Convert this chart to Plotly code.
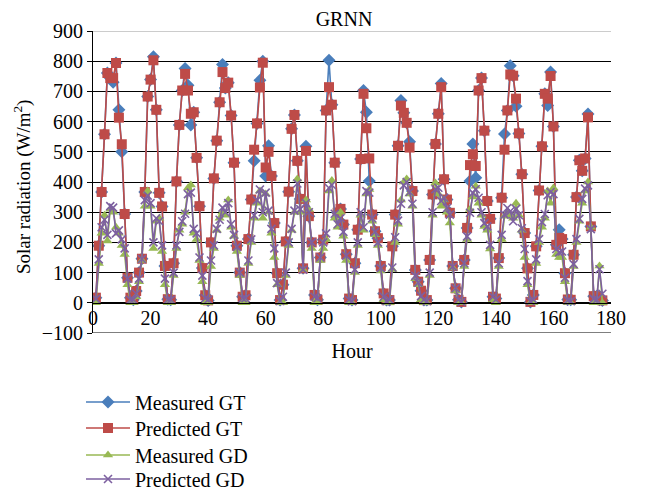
import plotly.graph_objects as go

# ---------------- data ----------------
gt_predicted = [
    17, 189, 367, 558, 761, 744, 744, 794, 613, 525, 294, 83, 17,
    10, 39, 100, 146, 367, 683, 739, 803, 639, 364, 319, 122, 12,
    10, 131, 402, 589, 703, 758, 703, 626, 631, 480, 320, 115, 25,
    8, 200, 412, 537, 664, 764, 711, 729, 620, 464, 189, 100, 20,
    25, 211, 342, 507, 594, 713, 795, 448, 500, 420, 264, 98, 9,
    60, 203, 368, 576, 622, 470, 344, 114, 503, 287, 200, 26,
    10, 150, 209, 637, 714, 656, 464, 298, 311, 259, 161, 14, 9,
    131, 242, 476, 692, 578, 478, 292, 237, 214, 122, 31, 9,
    9, 187, 292, 520, 653, 629, 596, 514, 370, 109, 70, 40, 9,
    9, 142, 359, 526, 626, 714, 409, 342, 298, 122, 48, 10, 3,
    142, 248, 456, 492, 453, 703, 744, 570, 337, 278, 20, 14,
    148, 348, 507, 637, 756, 752, 676, 561, 426, 231, 114, 3,
    26, 187, 372, 518, 692, 676, 751, 584, 192, 215, 211, 98, 11,
    10, 159, 350, 472, 437, 478, 614, 253, 22, 22, 10, 8,
]

gt_measured = [
    17, 189, 367, 558, 761, 744, 730, 794, 639, 500, 294, 83, 17,
    10, 39, 100, 146, 367, 683, 739, 815, 639, 364, 319, 122, 12,
    10, 131, 402, 589, 703, 776, 720, 589, 631, 480, 320, 115, 25,
    8, 200, 412, 537, 664, 789, 711, 729, 620, 464, 189, 100, 20,
    25, 211, 342, 470, 594, 737, 800, 420, 520, 420, 264, 98, 9,
    60, 203, 368, 576, 622, 470, 344, 114, 518, 287, 200, 26,
    10, 150, 209, 637, 803, 656, 464, 298, 311, 259, 161, 14, 9,
    131, 242, 476, 703, 631, 403, 292, 237, 214, 122, 31, 9,
    9, 187, 292, 520, 670, 629, 596, 533, 370, 109, 70, 40, 9,
    9, 142, 359, 526, 626, 726, 409, 342, 298, 122, 48, 10, 3,
    142, 248, 403, 526, 414, 703, 744, 570, 337, 278, 20, 14,
    148, 348, 559, 637, 785, 752, 651, 561, 426, 231, 114, 3,
    26, 187, 372, 518, 692, 653, 764, 584, 192, 242, 211, 98, 11,
    10, 159, 350, 472, 437, 478, 625, 253, 22, 22, 10, 8,
]

gd_predicted = [
    13, 144, 250, 275, 225, 320, 315, 230, 240, 210, 180, 80, 10,
    10, 30, 80, 145, 340, 355, 330, 200, 280, 270, 190, 80, 10,
    10, 100, 190, 235, 270, 295, 360, 365, 245, 230, 150, 90, 15,
    10, 140, 190, 245, 275, 315, 300, 330, 260, 225, 185, 100, 15,
    15, 140, 210, 290, 340, 375, 300, 365, 305, 245, 180, 65, 6,
    20, 100, 200, 245, 305, 395, 310, 110, 330, 300, 200, 20,
    15, 150, 200, 230, 380, 390, 295, 260, 280, 235, 156, 10, 5,
    110, 200, 300, 250, 370, 365, 280, 235, 200, 115, 20, 5,
    10, 117, 217, 272, 328, 389, 400, 367, 328, 89, 67, 22, 10,
    5, 100, 300, 376, 381, 337, 348, 314, 292, 120, 48, 10, 3,
    131, 220, 298, 364, 376, 348, 300, 264, 253, 192, 20, 10,
    131, 225, 292, 314, 303, 270, 311, 290, 247, 178, 72, 5,
    10, 144, 211, 267, 294, 356, 367, 360, 178, 167, 170, 83, 8,
    5, 128, 211, 278, 344, 378, 389, 244, 13, 10, 111, 30,
]

gd_measured = [
    0, 130, 230, 290, 205, 310, 300, 250, 230, 190, 160, 60, 0,
    0, 20, 70, 140, 320, 370, 320, 180, 270, 280, 170, 60, 0,
    0, 90, 180, 240, 260, 300, 380, 390, 230, 210, 140, 70, 0,
    0, 120, 180, 240, 280, 300, 290, 340, 250, 220, 170, 90, 0,
    0, 130, 200, 280, 330, 370, 280, 360, 300, 230, 150, 60, 0,
    0, 90, 190, 240, 300, 410, 300, 110, 340, 310, 180, 0,
    0, 140, 180, 210, 370, 405, 280, 250, 300, 220, 140, 0, 0,
    100, 190, 290, 240, 360, 375, 270, 225, 190, 105, 10, 0,
    0, 110, 200, 260, 340, 400, 410, 360, 320, 80, 60, 10, 0,
    0, 90, 290, 397, 360, 320, 340, 300, 264, 115, 40, 0, 0,
    120, 210, 309, 350, 386, 330, 290, 253, 240, 178, 10, 0,
    120, 210, 287, 300, 290, 280, 330, 290, 240, 150, 60, 0,
    0, 130, 200, 250, 280, 370, 330, 380, 160, 150, 150, 70, 0,
    0, 120, 200, 270, 330, 370, 400, 250, 0, 0, 122, 0,
]

hours = list(range(1, len(gt_predicted) + 1))

series_names = ["Measured GT", "Predicted GT", "Measured GD", "Predicted GD"]
y_ticks = [-100, 0, 100, 200, 300, 400, 500, 600, 700, 800, 900]
x_ticks = [0, 20, 40, 60, 80, 100, 120, 140, 160, 180]

# ---------------- styling ----------------
# The page adds an 8 px body margin, so the figure is sized/placed to compensate.
W, H = 638, 484
ML, MR, MT, MB = 85, 35, 23, 159
FONT = "Liberation Serif"
colors = ["#4A7EBB", "#BE4B48", "#98B954", "#7D60A0"]
symbols = ["diamond", "square", "triangle-up", "x-thin"]
sizes = [10, 10, 9, 8]
legend_ids = ["legend", "legend2", "legend3", "legend4"]
legend_centers_px = [394, 420, 447, 471]   # figure pixels (from top)

fig = go.Figure()
all_series = [gt_measured, gt_predicted, gd_measured, gd_predicted]
for name, vals, col, sym, sz, lg in zip(series_names, all_series, colors, symbols,
                                        sizes, legend_ids):
    n = min(len(vals), len(hours))
    marker = dict(symbol=sym, size=sz, color=col)
    if sym == "x-thin":
        marker["line"] = dict(color=col, width=1.6)
    fig.add_trace(go.Scatter(
        x=hours[:n], y=vals[:n], name=name, mode="lines+markers",
        line=dict(color=col, width=1.6), marker=marker, legend=lg,
    ))

legend_layouts = {}
for lg, cy in zip(legend_ids, legend_centers_px):
    legend_layouts[lg] = dict(
        xref="container", yref="container", x=73 / W, y=1 - cy / H,
        xanchor="left", yanchor="middle", itemwidth=44,
        font=dict(family=FONT, size=20, color="black"),
        bgcolor="rgba(0,0,0,0)",
    )

plot_w = W - ML - MR
plot_h = H - MT - MB

fig.update_layout(
    width=W, height=H,
    margin=dict(l=ML, r=MR, t=MT, b=MB, autoexpand=False),
    paper_bgcolor="white", plot_bgcolor="white",
    font=dict(family=FONT, size=20, color="black"),
    title=dict(text="GRNN", x=336 / W, xanchor="center", y=1 - 11 / H, yanchor="middle",
               font=dict(family=FONT, size=20, color="black")),
    showlegend=True,
    xaxis=dict(range=[0, 180], tickvals=x_ticks, showgrid=False, zeroline=False,
               showline=True, linecolor="black", linewidth=1,
               anchor="free", position=0.1, ticks="", ticklabelstandoff=-3,
               tickfont=dict(family=FONT, size=20),
               title=dict(text="Hour", font=dict(family=FONT, size=20), standoff=16)),
    yaxis=dict(range=[-100, 900], tickvals=y_ticks,
               ticktext=["\u2212100"] + [str(v) for v in y_ticks[1:]],
               showgrid=True, gridcolor="black", gridwidth=1, zeroline=False,
               showline=True, linecolor="black", linewidth=1,
               ticks="outside", ticklen=5, tickcolor="black",
               tickfont=dict(family=FONT, size=20)),
    annotations=[dict(
        text="Solar radiation (W/m<sup>2</sup>)", textangle=-90,
        xref="paper", yref="paper",
        x=(14 - ML) / plot_w, y=(MT + plot_h - 179) / plot_h,
        xanchor="center", yanchor="middle", showarrow=False,
        font=dict(family=FONT, size=19, color="black"),
    )],
    **legend_layouts,
)

# bottom border of the plot area (at -100) and lighter top border
fig.add_shape(type="line", xref="paper", yref="y", x0=0, x1=1, y0=-100, y1=-100,
              line=dict(color="black", width=1.2))
fig.add_shape(type="line", xref="paper", yref="y", x0=0, x1=1, y0=900, y1=900,
              line=dict(color="#9a9a9a", width=1.2))

fig.write_html("out.html")
